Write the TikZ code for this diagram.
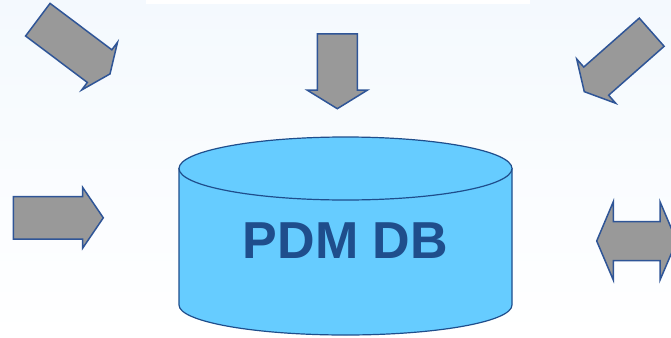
\documentclass[tikz,border=0pt]{standalone}
\usepackage{fontspec}
\setmainfont{Liberation Sans}
\usepackage{tikz}
\usetikzlibrary{positioning}

\definecolor{dbfill}{RGB}{102,204,255}
\definecolor{dbline}{RGB}{31,78,140}
\definecolor{arrowline}{RGB}{47,85,151}
\definecolor{arrowfill}{RGB}{153,153,153}
\definecolor{bgtop}{RGB}{244,249,254}

\tikzset{
  blockarrow/.style={draw=arrowline, fill=arrowfill, line width=1.5pt, line join=miter},
  dbbody/.style={draw=dbline, fill=dbfill, line width=1.2pt}
}

% block arrow: shift, angle, length, shaft half width, head half width, head length
\newcommand{\blockarrow}[6]{%
  \draw[blockarrow, shift={#1}, rotate=#2]
    (0,#4) -- ({#3-#6},#4) -- ({#3-#6},#5) -- (#3,0) -- ({#3-#6},-#5)
    -- ({#3-#6},-#4) -- (0,-#4) -- cycle;}

\begin{document}
\begin{tikzpicture}[x=1pt, y=-1pt]
    \useasboundingbox (0,0) rectangle (671,337);
    \clip (0,0) rectangle (671,337);

    % Background
    \shade[top color=bgtop, bottom color=white] (0,0) rectangle (671,337);
    \fill[white] (146,0) rectangle (530,4);

    % Arrows pointing at the database
    \blockarrow{(37.8,19.7)}{-36.9}{90.3}{20.4}{29.8}{13}
    \blockarrow{(337.3,34)}{-90}{74.7}{20}{30.3}{18.7}
    \blockarrow{(651.7,32.2)}{221.4}{89.9}{18.8}{29.5}{15.9}
    \blockarrow{(13.3,217.8)}{0}{90}{21.2}{30.3}{20.6}

    % Double arrow on the right
    \draw[blockarrow] (596.7,241) -- (613.3,201.7) -- (613.3,221.7) -- (660,221.7)
      -- (660,201.7) -- (676.7,241) -- (660,280) -- (660,260.7) -- (613.3,260.7)
      -- (613.3,280) -- cycle;

    % Database cylinder
    \draw[dbbody] (179,168.5) -- (179,305)
      arc[start angle=180, end angle=360, x radius=166.5pt, y radius=30pt]
      -- (512,168.5) -- cycle;
    \draw[dbbody] (345.5,168.5) ellipse[x radius=166.5pt, y radius=31.5pt];
    \node[text=dbline, font=\fontsize{52}{54}\selectfont\bfseries] (db) at (345.5,240.5) {PDM DB};

\end{tikzpicture}
\end{document}
